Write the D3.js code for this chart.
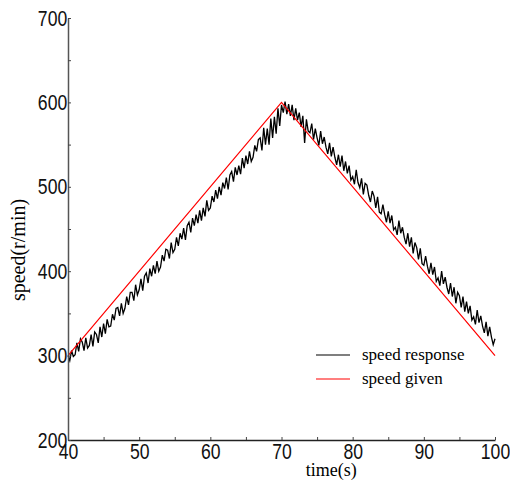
<!DOCTYPE html>
<html>
<head>
<meta charset="utf-8">
<script src="https://cdn.jsdelivr.net/npm/d3@7/dist/d3.min.js"></script>
<style>
  body { margin: 0; background: white; }
  svg { display: block; }
</style>
</head>
<body>
<script>
// speed given (red reference line)
var givenTime = [40, 70, 100];
var givenSpeed = [300, 600, 300];

// speed response, sampled every 0.25 s from 40 s, one row per second
var responseStart = 40;
var responseStep = 0.25;
var responseRows = [
    [300, 294, 306, 299],
    [301, 315, 305, 320],
    [316, 306, 321, 309],
    [312, 325, 311, 328],
    [325, 315, 334, 322],
    [338, 326, 343, 334],
    [335, 349, 342, 356],
    [357, 347, 362, 350],
    [356, 370, 360, 375],
    [375, 365, 384, 372],
    [378, 391, 377, 394],
    [398, 386, 403, 394],
    [407, 397, 412, 400],
    [405, 419, 412, 426],
    [425, 415, 434, 422],
    [426, 440, 430, 445],
    [438, 451, 437, 454],
    [458, 446, 463, 454],
    [467, 457, 472, 460],
    [475, 465, 484, 472],
    [475, 489, 482, 496],
    [486, 500, 490, 505],
    [498, 511, 497, 514],
    [518, 506, 523, 514],
    [525, 515, 534, 522],
    [537, 527, 542, 530],
    [535, 549, 542, 556],
    [558, 543, 570, 550],
    [569, 550, 581, 558],
    [583, 563, 593, 572],
    [597, 588, 601, 586],
    [598, 584, 597, 579],
    [593, 579, 588, 571],
    [584, 552, 580, 566],
    [564, 575, 556, 569],
    [558, 549, 566, 551],
    [559, 547, 539, 552],
    [536, 547, 535, 526],
    [538, 524, 537, 519],
    [530, 516, 525, 508],
    [512, 503, 520, 505],
    [499, 510, 491, 504],
    [502, 490, 482, 495],
    [489, 475, 488, 470],
    [468, 479, 467, 458],
    [471, 457, 466, 449],
    [452, 443, 460, 445],
    [452, 440, 432, 445],
    [429, 440, 421, 434],
    [428, 414, 427, 409],
    [407, 418, 406, 397],
    [410, 396, 405, 388],
    [392, 383, 400, 385],
    [393, 381, 373, 386],
    [370, 381, 362, 375],
    [371, 357, 370, 352],
    [364, 350, 359, 342],
    [346, 337, 354, 339],
    [347, 335, 327, 340],
    [323, 334, 322, 313],
    [320]
];

var xTicks = [40, 45, 50, 55, 60, 65, 70, 75, 80, 85, 90, 95, 100];
var yTicks = [200, 250, 300, 350, 400, 450, 500, 550, 600, 650, 700];
var legendNames = ["speed response", "speed given"];
var legendColours = ["black", "red"];

var width = 510, height = 484;
var margin = {top: 18, right: 15, bottom: 44, left: 68};

var svg = d3.select("body").append("svg")
    .attr("width", width)
    .attr("height", height);

var x = d3.scaleLinear().domain([40, 100]).range([margin.left, width - margin.right]);
var y = d3.scaleLinear().domain([200, 700]).range([height - margin.bottom, margin.top]);

// flatten the rows into points
var response = [];
responseRows.forEach(function(row, r) {
    row.forEach(function(v, k) {
        response.push([responseStart + (r * 4 + k) * responseStep, v]);
    });
});
var given = givenTime.map(function(t, i) { return [t, givenSpeed[i]]; });

var line = d3.line()
    .x(function(d) { return x(d[0]); })
    .y(function(d) { return y(d[1]); });

svg.append("path")
    .datum(response)
    .attr("fill", "none")
    .attr("stroke", "black")
    .attr("stroke-width", 1.3)
    .attr("d", line);

svg.append("path")
    .datum(given)
    .attr("fill", "none")
    .attr("stroke", "red")
    .attr("stroke-width", 1.2)
    .attr("d", line);

// axes, small ticks pointing inward
var xAxis = d3.axisBottom(x)
    .tickValues(xTicks)
    .tickSize(-3)
    .tickSizeOuter(0)
    .tickPadding(3)
    .tickFormat(function(d) { return d % 10 === 0 ? d : ""; });
var yAxis = d3.axisLeft(y)
    .tickValues(yTicks)
    .tickSize(-3)
    .tickSizeOuter(0)
    .tickPadding(1)
    .tickFormat(function(d) { return d % 100 === 0 ? d : ""; });

var gx = svg.append("g")
    .attr("transform", "translate(0," + (height - margin.bottom) + ")")
    .call(xAxis);
var gy = svg.append("g")
    .attr("transform", "translate(" + margin.left + ",0)")
    .call(yAxis);

gy.select(".domain").attr("stroke", "#555").attr("stroke-width", 1.5);
gx.select(".domain").attr("stroke", "#222").attr("stroke-width", 1.5);
svg.selectAll(".tick line").attr("stroke", "#444");
svg.selectAll(".tick text")
    .attr("fill", "#111")
    .style("font-family", "'Liberation Sans', Arial, sans-serif")
    .style("font-size", "22px")
    .attr("transform", "scale(0.8,1)");

// axis titles
svg.append("text")
    .attr("x", x(77))
    .attr("y", 476)
    .attr("text-anchor", "middle")
    .style("font-family", "'Liberation Serif', 'Times New Roman', serif")
    .style("font-size", "18px")
    .text("time(s)");

svg.append("text")
    .attr("transform", "translate(25,250) rotate(-90)")
    .attr("text-anchor", "middle")
    .style("font-family", "'Liberation Serif', 'Times New Roman', serif")
    .style("font-size", "20px")
    .text("speed(r/min)");

// legend
var legend = svg.selectAll(".legend")
    .data(legendNames)
    .enter().append("g")
    .attr("class", "legend")
    .attr("transform", function(d, i) { return "translate(316," + (355 + i * 24) + ")"; });

legend.append("line")
    .attr("x1", 0).attr("x2", 34)
    .attr("stroke", function(d, i) { return legendColours[i]; })
    .attr("stroke-width", 1.2);

legend.append("text")
    .attr("x", 46)
    .attr("y", 5)
    .style("font-family", "'Liberation Serif', 'Times New Roman', serif")
    .style("font-size", "17px")
    .text(function(d) { return d; });
</script>
</body>
</html>
